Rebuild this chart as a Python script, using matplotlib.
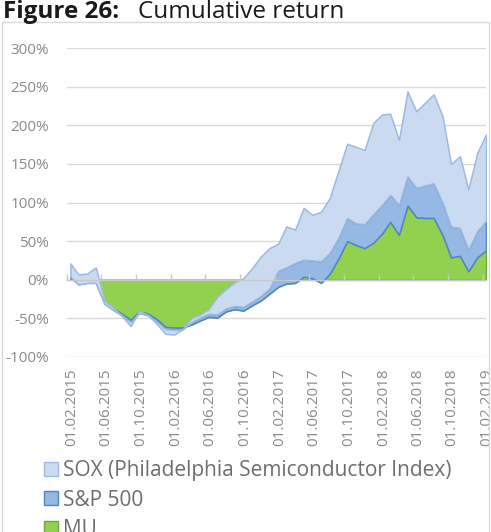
import numpy as np
import pandas as pd
import matplotlib
matplotlib.use("Agg")
import matplotlib.pyplot as plt
import matplotlib.dates as mdates
from matplotlib.patches import Patch, Rectangle
from matplotlib.ticker import FuncFormatter
from matplotlib.transforms import ScaledTranslation

plt.rcParams['font.family'] = ['Open Sans', 'DejaVu Sans']

# monthly observations Feb 2015 - Feb 2019, stacked cumulative return (%)
dates = pd.date_range('2015-02-01', periods=49, freq='MS') + pd.Timedelta(days=12)

mu = [2, -4, -3, -3, -29, -37, -44, -52, -41, -44, -51, -61, -62, -62, -58, -53,
      -48, -49, -41, -38, -40, -33, -27, -18, -9, -5, -4, 4, 2, -4, 8, 28,
      50, 45, 41, 48, 60, 75, 58, 96, 81, 80, 80, 58, 29, 31, 11, 29, 38]
sp500 = [2, -2, -1, -1, -2, -2, -2, -3, -2, -2, -3, -3, -3, -2, 3, 4,
         4, 4, 4, 4, 5, 5, 6, 7, 21, 21, 26, 22, 23, 28, 27, 27,
         30, 28, 31, 37, 37, 35, 39, 38, 38, 42, 45, 42, 40, 36, 28, 34, 38]
sox = [17, 13, 12, 20, 4, 3, -1, -5, 3, 0, -3, -6, -6, 0, 5, 4,
       6, 23, 25, 31, 37, 43, 51, 52, 35, 53, 43, 67, 59, 64, 71, 87,
       96, 99, 96, 118, 117, 105, 84, 110, 99, 107, 115, 112, 81, 93, 78, 101, 112]

series_names = ['MU', 'S&P 500', 'SOX (Philadelphia Semiconductor Index)']
fills = ['#92D050', '#95B9E4', '#CADBF1']
edges = ['#6FA83C', '#4F86C6', '#9DBAE0']

tick_dates = pd.date_range('2015-02-01', '2019-02-01', freq='4MS')

fig = plt.figure(figsize=(4.91, 5.32), dpi=100)
ax = fig.add_axes([67 / 491, 1 - 357 / 532, (486 - 67) / 491, (357 - 48) / 532])

stack = np.cumsum(np.vstack([mu, sp500, sox]), axis=0)
lower = np.zeros(len(dates))
for top, fc, ec in zip(stack, fills, edges):
    ax.fill_between(dates, lower, top, facecolor=fc, edgecolor=ec,
                    linewidth=1.1, zorder=2)
    lower = top

ax.set_xlim(pd.Timestamp('2015-02-01'), dates[-1])
ax.set_ylim(-100, 300)
ax.set_yticks(range(-100, 301, 50))
ax.yaxis.set_major_formatter(FuncFormatter(lambda v, p: f'{v:.0f}%'))
ax.grid(axis='y', color='#D9D9D9', linewidth=1.0)
ax.set_axisbelow(True)
for s in ax.spines.values():
    s.set_visible(False)

ax.set_xticks(tick_dates)
ax.xaxis.set_major_formatter(mdates.DateFormatter('%d.%m.%Y'))
ax.tick_params(axis='x', length=0, pad=8, labelsize=11, labelcolor='#8A8A8A',
               labelrotation=90)
ax.tick_params(axis='y', length=0, pad=13, labelsize=11, labelcolor='#8A8A8A')
shift = ScaledTranslation(4.5 / 100, 0, fig.dpi_scale_trans)
for lab in ax.get_xticklabels():
    lab.set_transform(lab.get_transform() + shift)

# category axis line crossing at 0 with tick marks
zero_pos = (0 - ax.get_ylim()[0]) / (ax.get_ylim()[1] - ax.get_ylim()[0])
sec = ax.secondary_xaxis(zero_pos)
sec.set_xticks(tick_dates)
sec.tick_params(direction='in', length=4, width=1, color='#C8C8C8',
                labelbottom=False, labeltop=False)
sec.spines['bottom'].set_color('#C8C8C8')
sec.spines['bottom'].set_linewidth(1.0)
sec.set_zorder(5)

# title
fig.text(3 / 491, 1 - 18 / 532, 'Figure 26:', fontsize=17.5, fontweight='bold',
         color='#1A1A1A', va='baseline', ha='left')
fig.text(138 / 491, 1 - 18 / 532, 'Cumulative return', fontsize=17.5,
         color='#1A1A1A', va='baseline', ha='left')

# chart frame
fig.patches.append(Rectangle((2 / 491, -0.05), 487 / 491, 1.05 - 22 / 532,
                             transform=fig.transFigure, fill=False,
                             edgecolor='#D9D9D9', linewidth=1.0))

handles = [Patch(facecolor=fc, edgecolor=ec, linewidth=1.0)
           for fc, ec in zip(fills[::-1], edges[::-1])]
fig.legend(handles, series_names[::-1], loc='upper left',
           bbox_to_anchor=(44 / 491, 1 - 460 / 532), frameon=False,
           fontsize=15, labelcolor='#6E6E6E', handlelength=0.67,
           handleheight=0.67, handletextpad=0.25, labelspacing=0.41,
           borderaxespad=0, borderpad=0)

fig.savefig('out.png', dpi=100)
